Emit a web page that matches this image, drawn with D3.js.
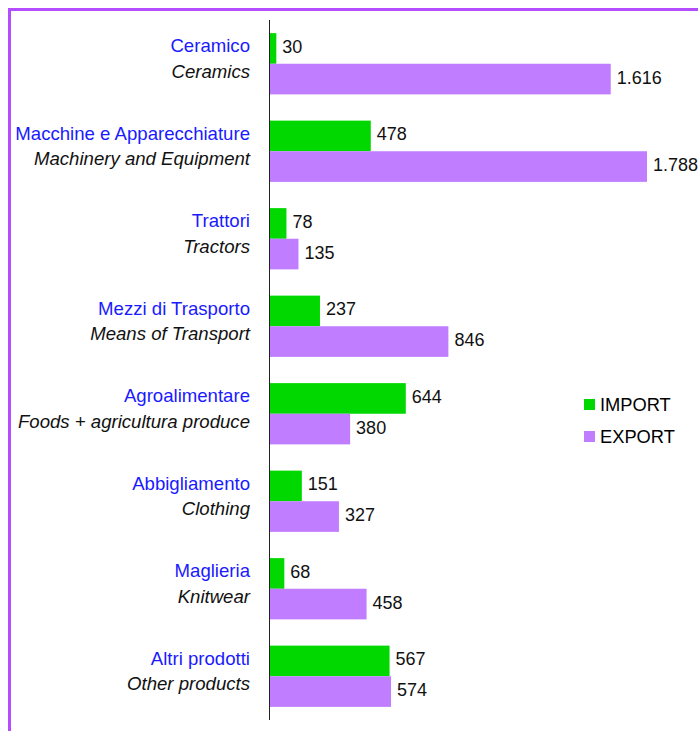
<!doctype html>
<html lang="it">
  <head>
    <meta charset="utf-8">
    <script src="https://cdn.jsdelivr.net/npm/d3@7"></script>
    <style>
body {
	margin: 0;
	background: #fff;
}
svg text {
	font-family: "Liberation Sans", Arial, sans-serif;
	font-size: 18px;
}
.it { fill: #1a1aff; font-size: 18.6px; }
.en { fill: #111; font-style: italic; font-size: 18.6px; }
.val { fill: #111; }
.leg { font-size: 18.3px; }
    </style>
  </head>
  <body>
    <svg id="chart" width="698" height="731"></svg>
    <script>
//=============================== DATA ===================================
var catIt	= ['Ceramico', 'Macchine e Apparecchiature', 'Trattori', 'Mezzi di Trasporto',
			   'Agroalimentare', 'Abbigliamento', 'Maglieria', 'Altri prodotti']
var catEn	= ['Ceramics', 'Machinery and Equipment', 'Tractors', 'Means of Transport',
			   'Foods + agricultura produce', 'Clothing', 'Knitwear', 'Other products']
var importVals	= [30, 478, 78, 237, 644, 151, 68, 567]
var exportVals	= [1616, 1788, 135, 846, 380, 327, 458, 574]
var seriesNames	= ['IMPORT', 'EXPORT']
var colors		= ['#00d800', '#c07dff']

//=============================== DRAW ===================================
var svg = d3.select('#chart')

// outer frame (runs off the right and bottom edges)
svg.append('rect')
	.attr('x', 9.5).attr('y', 9.5)
	.attr('width', 720).attr('height', 760)
	.attr('fill', 'none')
	.attr('stroke', '#b34dff')
	.attr('stroke-width', 3)

var x = d3.scaleLinear().domain([0, 1788]).range([270, 647])
var y = d3.scaleBand().domain(d3.range(catIt.length)).range([20, 720])
	.paddingInner(0.3).paddingOuter(0.15)
var half = y.bandwidth() / 2

var fmt = d3.formatLocale({ decimal: ',', thousands: '.', grouping: [3], currency: ['', ''] }).format(',d')

var rows = svg.append('g').selectAll('g')
	.data(d3.range(catIt.length)).enter()
	.append('g')
	.attr('transform', function(i) { return 'translate(0,' + y(i) + ')' })

var series = [importVals, exportVals]
series.forEach(function(vals, s) {
	rows.append('rect')
		.attr('x', x(0))
		.attr('y', s * half)
		.attr('width', function(i) { return x(vals[i]) - x(0) })
		.attr('height', half)
		.attr('fill', colors[s])
	rows.append('text').classed('val', true)
		.attr('x', function(i) { return x(vals[i]) + 6 })
		.attr('y', s * half + half / 2 - 2)
		.attr('dy', '0.36em')
		.text(function(i) { return fmt(vals[i]) })
})

rows.append('text').classed('it', true)
	.attr('x', 250).attr('y', half / 2 - 3).attr('dy', '0.36em')
	.attr('text-anchor', 'end')
	.text(function(i) { return catIt[i] })
rows.append('text').classed('en', true)
	.attr('x', 250).attr('y', half + half / 2 - 8).attr('dy', '0.36em')
	.attr('text-anchor', 'end')
	.text(function(i) { return catEn[i] })

// category axis line
svg.append('line')
	.attr('x1', 269.5).attr('x2', 269.5)
	.attr('y1', 20).attr('y2', 720)
	.attr('stroke', '#222').attr('stroke-width', 1)

// legend
var leg = svg.append('g').selectAll('g')
	.data(seriesNames).enter()
	.append('g')
	.attr('transform', function(d, i) { return 'translate(584,' + (399 + i * 32) + ')' })
leg.append('rect')
	.attr('width', 11).attr('height', 11)
	.attr('fill', function(d, i) { return colors[i] })
leg.append('text').classed('leg', true)
	.attr('x', 16).attr('y', 5.5).attr('dy', '0.36em')
	.text(function(d) { return d })
    </script>
  </body>
</html>
